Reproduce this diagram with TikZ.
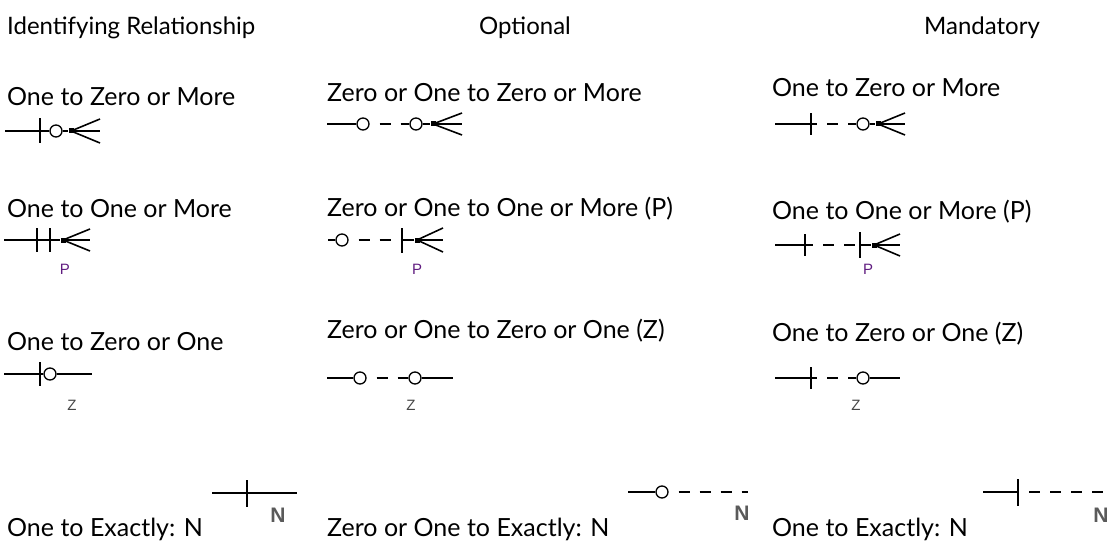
\documentclass[tikz,border=0pt]{standalone}
\usepackage{fontspec}
\setmainfont{Lato}
\newfontfamily\tagfont{Liberation Sans}
\usetikzlibrary{positioning}

\definecolor{TagPurple}{RGB}{96,28,128}
\definecolor{TagGray}{RGB}{70,70,70}
\definecolor{NGray}{RGB}{90,90,90}

\begin{document}
\begin{tikzpicture}[x=1pt, y=-1pt,
	hdr/.style={inner sep=0pt, font=\fontsize{24}{28}\selectfont, text height=17pt, text depth=0pt},
	lbl/.style={anchor=west, inner sep=0pt, font=\fontsize{25}{29}\selectfont, text height=18pt, text depth=0pt},
	ln/.style={line width=1.6pt},
	dl/.style={line width=1.6pt, dash pattern=on 11pt off 10pt, dash phase=11pt},
	ring/.style={circle, draw, line width=1.3pt, inner sep=0pt, minimum size=12pt},
	knot/.style={rectangle, fill, inner sep=0pt, minimum size=5pt},
	tick/.style={rectangle, fill, inner sep=0pt, minimum width=1.6pt, minimum height=24pt},
	ptag/.style={inner sep=0pt, font=\tagfont\fontsize{15}{15}\selectfont, text=TagPurple},
	ztag/.style={inner sep=0pt, font=\tagfont\fontsize{15}{15}\selectfont, text=TagGray},
	ntag/.style={inner sep=0pt, font=\tagfont\bfseries\fontsize{21}{21}\selectfont, text=NGray}]

	\useasboundingbox (0,0) rectangle (1113,548);

	% column headers
	\node[hdr, anchor=west] (h1) at (7,26) {Identifying Relationship};
	\node[hdr] (h2) at (525,26) {Optional};
	\node[hdr] (h3) at (982,26) {Mandatory};

	% --- identifying ---
	\node[lbl] (a1) at (7,97) {One to Zero or More};
	\coordinate (a1w) at (5,131);
	\node[tick, minimum height=25pt] (a1t) at (40,131) {};
	\node[ring] (a1r) at (56,131) {};
	\node[knot] (a1k) at (71,131) {};
	\coordinate (a1e) at (100,131);
	\draw[ln] (a1w) -- (a1r);
	\draw[ln] (a1r) -- (a1k) -- (a1e);
	\draw[ln] (a1k) -- ([yshift=12pt]a1e) (a1k) -- ([yshift=-12pt]a1e);

	\node[lbl] (a2) at (7,209) {One to One or More};
	\coordinate (a2w) at (4,240);
	\node[tick] (a2t) at (37,240) {};
	\node[tick] (a2u) at (50,240) {};
	\node[knot] (a2k) at (63,240) {};
	\coordinate (a2e) at (90,240);
	\draw[ln] (a2w) -- (a2k) -- (a2e);
	\draw[ln] (a2k) -- ([yshift=11pt]a2e) (a2k) -- ([yshift=-11pt]a2e);
	\node[ptag] (a2p) at (65,269) {P};

	\node[lbl] (a3) at (7,341) {One to Zero or One};
	\coordinate (a3w) at (4,374);
	\node[tick] (a3t) at (40,374) {};
	\node[ring] (a3r) at (50,374) {};
	\coordinate (a3e) at (92,374);
	\draw[ln] (a3w) -- (a3r);
	\draw[ln] (a3r) -- (a3e);
	\node[ztag] (a3z) at (72,405) {Z};

	\node[lbl] (a4) at (7,527) {One to Exactly: N};
	\coordinate (a4w) at (212,493);
	\node[tick, minimum height=27pt] (a4t) at (247,493) {};
	\coordinate (a4e) at (297,493);
	\draw[ln] (a4w) -- (a4e);
	\node[ntag] (a4n) at (278,515) {N};

	% --- optional ---
	\node[lbl] (b1) at (327,93) {Zero or One to Zero or More};
	\coordinate (b1w) at (327,124);
	\node[ring] (b1r) at (363,124) {};
	\node[ring] (b1s) at (416,124) {};
	\node[knot] (b1k) at (433,124) {};
	\coordinate (b1e) at (462,124);
	\draw[ln] (b1w) -- (b1r);
	\draw[dl] (b1r) -- (b1s);
	\draw[ln] (b1s) -- (b1k) -- (b1e);
	\draw[ln] (b1k) -- ([yshift=11pt]b1e) (b1k) -- ([yshift=-11pt]b1e);

	\node[lbl] (b2) at (327,207) {Zero or One to One or More (P)};
	\coordinate (b2w) at (328,240);
	\node[ring] (b2r) at (342,240) {};
	\node[tick, minimum height=25pt] (b2t) at (402,240) {};
	\node[knot] (b2k) at (417,240) {};
	\coordinate (b2e) at (443,240);
	\draw[ln] (b2w) -- (b2r);
	\draw[dl] (b2r) -- (b2t);
	\draw[ln] (b2t) -- (b2k) -- (b2e);
	\draw[ln] (b2k) -- ([yshift=12pt]b2e) (b2k) -- ([yshift=-12pt]b2e);
	\node[ptag] (b2p) at (417,269) {P};

	\node[lbl] (b3) at (327,329) {Zero or One to Zero or One (Z)};
	\coordinate (b3w) at (327,378);
	\node[ring] (b3r) at (360,378) {};
	\node[ring] (b3s) at (415,378) {};
	\coordinate (b3e) at (453,378);
	\draw[ln] (b3w) -- (b3r);
	\draw[dl] (b3r) -- (b3s);
	\draw[ln] (b3s) -- (b3e);
	\node[ztag] (b3z) at (411,405) {Z};

	\node[lbl] (b4) at (327,527) {Zero or One to Exactly: N};
	\coordinate (b4w) at (628,492);
	\node[ring] (b4r) at (662,492) {};
	\coordinate (b4e) at (748,492);
	\draw[ln] (b4w) -- (b4r);
	\draw[dl] (b4r) -- (b4e);
	\node[ntag] (b4n) at (742,513) {N};

	% --- mandatory ---
	\node[lbl] (c1) at (772,88) {One to Zero or More};
	\coordinate (c1w) at (775,124);
	\node[tick, minimum height=22pt] (c1t) at (811,124) {};
	\coordinate (c1m) at (817,124);
	\node[ring] (c1r) at (863,124) {};
	\node[knot] (c1k) at (878,124) {};
	\coordinate (c1e) at (905,124);
	\draw[ln] (c1w) -- (c1m);
	\draw[dl] (c1m) -- (c1r);
	\draw[ln] (c1r) -- (c1k) -- (c1e);
	\draw[ln] (c1k) -- ([yshift=11pt]c1e) (c1k) -- ([yshift=-11pt]c1e);

	\node[lbl] (c2) at (772,210) {One to One or More (P)};
	\coordinate (c2w) at (775,245);
	\node[tick, minimum height=22pt] (c2t) at (805,245) {};
	\coordinate (c2m) at (813,245);
	\node[tick, minimum height=26pt] (c2u) at (860,245) {};
	\node[knot] (c2k) at (874,245) {};
	\coordinate (c2e) at (900,245);
	\draw[ln] (c2w) -- (c2m);
	\draw[dl] (c2m) -- (c2u);
	\draw[ln] (c2u) -- (c2k) -- (c2e);
	\draw[ln] (c2k) -- ([yshift=11pt]c2e) (c2k) -- ([yshift=-11pt]c2e);
	\node[ptag] (c2p) at (868,269) {P};

	\node[lbl] (c3) at (772,332) {One to Zero or One (Z)};
	\coordinate (c3w) at (775,378);
	\node[tick, minimum height=22pt] (c3t) at (811,378) {};
	\coordinate (c3m) at (817,378);
	\node[ring] (c3r) at (863,378) {};
	\coordinate (c3e) at (900,378);
	\draw[ln] (c3w) -- (c3m);
	\draw[dl] (c3m) -- (c3r);
	\draw[ln] (c3r) -- (c3e);
	\node[ztag] (c3z) at (856,405) {Z};

	\node[lbl] (c4) at (772,527) {One to Exactly: N};
	\coordinate (c4w) at (983,492);
	\node[tick, minimum height=27pt] (c4t) at (1018,492) {};
	\coordinate (c4e) at (1104,492);
	\draw[ln] (c4w) -- (c4t);
	\draw[dl] (c4t) -- (c4e);
	\node[ntag] (c4n) at (1101,515) {N};
\end{tikzpicture}
\end{document}
